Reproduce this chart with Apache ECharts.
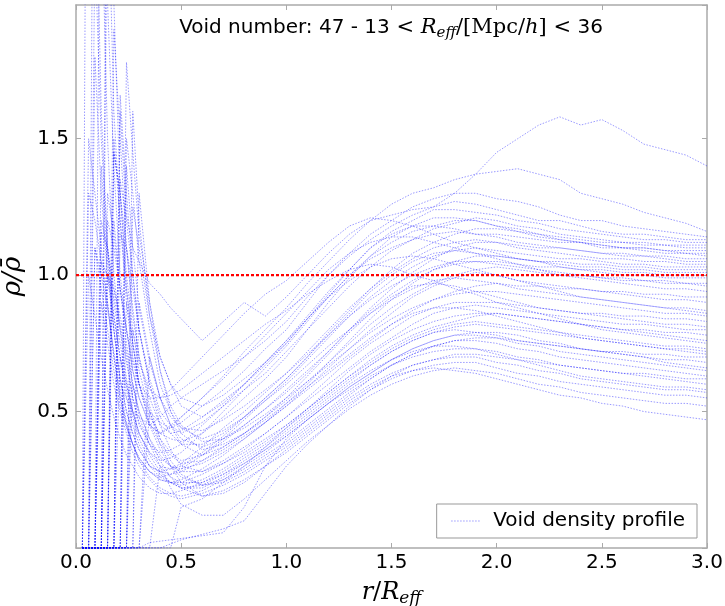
<!DOCTYPE html>
<html><head><meta charset="utf-8">
<script src="https://cdn.jsdelivr.net/npm/echarts@6/dist/echarts.min.js"></script>
<style>html,body{margin:0;padding:0;background:#fff}#c{width:725px;height:606px}</style>
</head><body><div id="c"></div>
<script>
// radius grid r/R_eff shared by all profiles
const rGrid = [0.03,0.06,0.09,0.12,0.15,0.18,0.21,0.24,0.27,0.30,0.35,0.40,0.45,0.50,0.60,0.70,0.80,0.90,1.00,1.10,1.20,1.30,1.40,1.50,1.60,1.70,1.80,1.90,2.00,2.10,2.20,2.30,2.40,2.50,2.60,2.70,2.80,2.90,3.00];

// density profiles rho/rho_bar (47 voids)
const p01 = [0,4.5,2.6,1.6,1.1,0.8,0.6,0.55,0.5,0.48,0.45,0.48,0.52,0.55,0.6,0.65,0.7,0.76,0.83,0.92,1.0,1.07,1.13,1.18,1.22,1.25,1.3,1.37,1.45,1.5,1.55,1.58,1.55,1.57,1.53,1.48,1.46,1.44,1.40];
const p02 = [0,0,0,3.2,2.0,1.4,1.0,0.8,0.65,0.55,0.45,0.42,0.45,0.48,0.55,0.63,0.72,0.8,0.88,0.97,1.05,1.13,1.2,1.26,1.3,1.32,1.35,1.37,1.38,1.39,1.37,1.35,1.3,1.28,1.26,1.23,1.21,1.19,1.16];
const p03 = [0,0,0,0,2.5,1.6,1.2,0.9,0.7,0.6,0.5,0.46,0.44,0.46,0.52,0.58,0.65,0.73,0.8,0.9,1.0,1.08,1.15,1.2,1.25,1.28,1.3,1.3,1.28,1.27,1.25,1.22,1.2,1.2,1.18,1.17,1.16,1.15,1.14];
const p04 = [0,0,0,0,0,0,1.6,1.22,1.1,1.05,0.97,0.93,0.88,0.84,0.76,0.83,0.9,0.85,0.92,1.0,1.08,1.15,1.2,1.22,1.24,1.25,1.27,1.26,1.24,1.22,1.2,1.2,1.18,1.16,1.15,1.15,1.14,1.13,1.13];
const p05 = [0,0,0,0,0,1.9,1.5,1.1,0.85,0.7,0.55,0.45,0.42,0.43,0.48,0.54,0.6,0.68,0.76,0.85,0.94,1.02,1.1,1.16,1.2,1.24,1.24,1.23,1.22,1.2,1.19,1.17,1.16,1.15,1.14,1.13,1.13,1.12,1.12];
const p06 = [0,0,3.8,2.4,1.5,1.0,0.8,0.62,0.5,0.42,0.35,0.32,0.33,0.35,0.42,0.5,0.58,0.66,0.74,0.83,0.92,1.0,1.07,1.12,1.16,1.18,1.2,1.2,1.18,1.17,1.15,1.14,1.13,1.12,1.12,1.11,1.11,1.11,1.11];
const p07 = [0,0,0,0,0,0,1.66,1.3,1.0,0.8,0.62,0.5,0.45,0.42,0.46,0.52,0.58,0.64,0.72,0.8,0.88,0.96,1.03,1.09,1.13,1.17,1.19,1.21,1.2,1.18,1.17,1.15,1.14,1.13,1.12,1.12,1.11,1.1,1.1];
const p08 = [0,0,0,0,0,0,0,1.78,1.45,1.15,0.9,0.7,0.6,0.55,0.52,0.56,0.62,0.68,0.75,0.84,0.92,1.0,1.06,1.1,1.13,1.15,1.16,1.15,1.15,1.14,1.13,1.12,1.12,1.11,1.1,1.1,1.09,1.09,1.09];
const p09 = [0,0,0,1.16,1.1,0.9,0.75,0.6,0.5,0.42,0.35,0.3,0.29,0.3,0.35,0.41,0.48,0.55,0.62,0.7,0.79,0.87,0.95,1.02,1.08,1.12,1.15,1.17,1.17,1.16,1.14,1.13,1.12,1.11,1.1,1.1,1.09,1.08,1.08];
const p10 = [0,0,0,0,3.0,2.0,1.3,0.95,0.75,0.6,0.48,0.42,0.4,0.39,0.42,0.48,0.55,0.62,0.7,0.8,0.9,0.99,1.07,1.14,1.18,1.21,1.21,1.2,1.18,1.16,1.15,1.13,1.12,1.1,1.1,1.09,1.08,1.08,1.07];
const p11 = [0,0,2.2,1.5,1.1,0.85,0.7,0.55,0.45,0.38,0.3,0.28,0.29,0.31,0.37,0.44,0.5,0.57,0.64,0.72,0.8,0.88,0.95,1.01,1.06,1.1,1.12,1.13,1.12,1.11,1.1,1.1,1.09,1.08,1.08,1.07,1.07,1.06,1.06];
const p12 = [0,0,0,0,0,0,0,0,1.25,1.1,0.85,0.7,0.6,0.52,0.48,0.53,0.6,0.67,0.75,0.84,0.93,1.02,1.1,1.15,1.18,1.18,1.17,1.15,1.14,1.12,1.11,1.1,1.09,1.08,1.07,1.07,1.06,1.05,1.05];
const p13 = [0,0,0,0,0,1.45,1.3,1.1,0.88,0.7,0.52,0.4,0.35,0.32,0.34,0.39,0.45,0.51,0.57,0.64,0.72,0.8,0.88,0.95,1.01,1.06,1.1,1.12,1.12,1.1,1.09,1.08,1.07,1.06,1.06,1.05,1.05,1.04,1.04];
const p14 = [0,1.5,1.3,1.1,0.9,0.7,0.55,0.45,0.38,0.32,0.28,0.26,0.27,0.29,0.34,0.4,0.47,0.54,0.61,0.69,0.77,0.85,0.92,0.98,1.03,1.07,1.09,1.1,1.09,1.08,1.07,1.06,1.06,1.05,1.04,1.04,1.03,1.03,1.03];
const p15 = [0,0,0,0,0,0,1.15,1.1,0.95,0.8,0.6,0.48,0.42,0.38,0.38,0.42,0.48,0.55,0.62,0.7,0.78,0.86,0.94,1.0,1.05,1.08,1.09,1.08,1.07,1.06,1.05,1.05,1.04,1.04,1.03,1.03,1.02,1.02,1.02];
const p16 = [0,0,0,1.05,1.0,0.92,0.8,0.68,0.55,0.46,0.38,0.33,0.3,0.29,0.31,0.35,0.4,0.46,0.53,0.6,0.68,0.76,0.84,0.91,0.97,1.02,1.05,1.07,1.07,1.06,1.05,1.04,1.03,1.03,1.02,1.02,1.01,1.01,1.01];
const p17 = [0,0,0,0,0,0,0,1.4,1.1,0.88,0.68,0.55,0.48,0.44,0.43,0.47,0.52,0.58,0.64,0.71,0.78,0.85,0.91,0.96,1.0,1.03,1.05,1.05,1.05,1.04,1.03,1.03,1.02,1.02,1.01,1.01,1.0,1.0,1.0];
const p18 = [0,0,0,0,1.3,1.15,0.95,0.8,0.68,0.6,0.55,0.55,0.58,0.62,0.7,0.78,0.86,0.93,0.98,1.05,1.12,1.18,1.21,1.2,1.18,1.15,1.12,1.1,1.08,1.06,1.05,1.03,1.02,1.01,1.0,1.0,0.99,0.99,0.99];
const p19 = [0,0,1.8,1.3,1.0,0.8,0.62,0.5,0.42,0.36,0.3,0.28,0.27,0.28,0.32,0.37,0.42,0.48,0.54,0.61,0.68,0.75,0.82,0.88,0.93,0.97,1.0,1.02,1.03,1.02,1.01,1.0,1.0,0.99,0.99,0.98,0.98,0.97,0.97];
const p20 = [0,0,0,0,0,0,0,0,0,0.9,0.7,0.55,0.45,0.4,0.37,0.4,0.45,0.51,0.58,0.65,0.72,0.8,0.87,0.93,0.98,1.02,1.04,1.05,1.04,1.03,1.02,1.01,1.0,0.99,0.98,0.98,0.97,0.97,0.96];
const p21 = [0,0,0,0,1.2,1.1,0.95,0.8,0.65,0.55,0.45,0.42,0.44,0.48,0.55,0.62,0.7,0.78,0.86,0.94,1.02,1.08,1.12,1.14,1.14,1.12,1.1,1.08,1.06,1.04,1.02,1.0,0.99,0.98,0.97,0.96,0.95,0.95,0.94];
const p22 = [0,0,0,0,0,1.5,1.2,0.95,0.75,0.6,0.46,0.38,0.34,0.31,0.32,0.36,0.41,0.46,0.52,0.58,0.64,0.7,0.76,0.82,0.87,0.91,0.94,0.96,0.97,0.96,0.96,0.95,0.95,0.94,0.94,0.93,0.93,0.92,0.92];
const p23 = [0,1.3,1.2,1.05,0.9,0.7,0.55,0.45,0.38,0.33,0.28,0.25,0.24,0.25,0.29,0.34,0.4,0.46,0.52,0.59,0.66,0.73,0.8,0.86,0.92,0.96,0.99,1.01,1.0,0.98,0.97,0.96,0.95,0.94,0.93,0.92,0.91,0.91,0.9];
const p24 = [0,0,0,0,0,0,0,1.5,1.3,1.05,0.8,0.6,0.5,0.44,0.4,0.43,0.48,0.54,0.6,0.67,0.74,0.8,0.86,0.91,0.95,0.98,0.99,0.98,0.97,0.95,0.94,0.93,0.92,0.91,0.9,0.89,0.88,0.88,0.87];
const p25 = [0,0,0,1.2,1.1,0.95,0.82,0.7,0.55,0.45,0.38,0.35,0.36,0.38,0.45,0.52,0.6,0.68,0.76,0.84,0.92,0.98,1.03,1.06,1.07,1.06,1.04,1.02,1.0,0.98,0.96,0.94,0.92,0.91,0.9,0.89,0.88,0.87,0.86];
const p26 = [0,0,0,0,0,0,0,0,1.6,1.2,0.85,0.65,0.52,0.45,0.39,0.4,0.44,0.49,0.55,0.61,0.67,0.73,0.79,0.84,0.88,0.91,0.93,0.94,0.94,0.93,0.92,0.91,0.9,0.89,0.88,0.87,0.86,0.86,0.85];
const p27 = [0,0,1.1,0.95,0.8,0.65,0.52,0.44,0.38,0.33,0.28,0.25,0.24,0.24,0.27,0.31,0.36,0.42,0.48,0.55,0.62,0.69,0.75,0.8,0.85,0.88,0.9,0.9,0.9,0.89,0.88,0.87,0.86,0.86,0.85,0.85,0.84,0.84,0.83];
const p28 = [0,0,0,0,0,0,0,0,0,0,0.7,0.55,0.45,0.38,0.34,0.37,0.42,0.48,0.55,0.63,0.71,0.79,0.86,0.92,0.96,0.97,0.96,0.94,0.92,0.9,0.88,0.87,0.86,0.85,0.84,0.83,0.82,0.82,0.81];
const p29 = [0,0,0,0,1.0,0.95,0.85,0.72,0.6,0.5,0.4,0.34,0.3,0.28,0.28,0.32,0.37,0.42,0.48,0.54,0.6,0.66,0.72,0.77,0.82,0.86,0.88,0.89,0.88,0.87,0.86,0.85,0.84,0.83,0.82,0.82,0.81,0.8,0.8];
const p30 = [0,0,0,0,0,0,1.35,1.2,1.0,0.8,0.6,0.45,0.36,0.3,0.28,0.31,0.35,0.4,0.45,0.51,0.57,0.63,0.69,0.74,0.78,0.81,0.83,0.85,0.86,0.85,0.84,0.83,0.82,0.81,0.8,0.8,0.79,0.79,0.78];
const p31 = [0,0,0,0,0,1.45,1.3,1.0,0.8,0.68,0.58,0.55,0.56,0.58,0.64,0.7,0.76,0.82,0.87,0.93,0.98,1.02,1.04,1.03,1.0,0.98,0.95,0.93,0.9,0.88,0.86,0.84,0.82,0.81,0.8,0.79,0.78,0.77,0.76];
const p32 = [0,0,0,0,0,0,0,0,0,0,0,0,0,0.15,0.18,0.24,0.3,0.37,0.44,0.51,0.58,0.65,0.71,0.76,0.8,0.83,0.85,0.86,0.86,0.85,0.84,0.83,0.82,0.8,0.79,0.78,0.77,0.76,0.75];
const p33 = [0,0,0,1.4,1.05,0.8,0.62,0.5,0.42,0.36,0.3,0.26,0.24,0.23,0.25,0.29,0.34,0.39,0.45,0.51,0.57,0.63,0.68,0.73,0.77,0.8,0.82,0.83,0.82,0.81,0.8,0.79,0.78,0.77,0.76,0.75,0.74,0.74,0.73];
const p34 = [0,1.0,0.85,0.7,0.58,0.48,0.4,0.34,0.3,0.26,0.22,0.2,0.2,0.21,0.24,0.28,0.33,0.38,0.44,0.5,0.56,0.62,0.67,0.72,0.76,0.79,0.81,0.82,0.81,0.8,0.79,0.78,0.77,0.76,0.75,0.74,0.73,0.73,0.72];
const p35 = [0,0,0,0,0,0,0,0,0,1.3,0.9,0.65,0.5,0.42,0.36,0.38,0.42,0.47,0.53,0.59,0.65,0.71,0.77,0.82,0.86,0.88,0.88,0.87,0.85,0.83,0.81,0.79,0.77,0.76,0.75,0.74,0.73,0.72,0.71];
const p36 = [0,0,0,0,0,0,0,0.9,0.75,0.6,0.45,0.36,0.3,0.26,0.23,0.25,0.29,0.34,0.39,0.45,0.51,0.57,0.62,0.67,0.71,0.74,0.76,0.77,0.77,0.76,0.75,0.74,0.73,0.72,0.72,0.71,0.71,0.7,0.7];
const p37 = [0,0,0,0,1.0,0.85,0.7,0.58,0.48,0.4,0.32,0.27,0.24,0.22,0.23,0.27,0.32,0.37,0.43,0.49,0.55,0.61,0.67,0.72,0.76,0.79,0.8,0.79,0.78,0.76,0.75,0.74,0.73,0.72,0.71,0.7,0.69,0.69,0.68];
const p38 = [0,0,0,0,0,0,0,0,0,0,0.02,0.025,0.03,0.035,0.045,0.056,0.15,0.3,0.4,0.47,0.53,0.59,0.64,0.69,0.73,0.76,0.78,0.79,0.79,0.78,0.76,0.75,0.73,0.72,0.71,0.7,0.68,0.67,0.66];
const p39 = [0,0,1.1,1.0,0.88,0.72,0.58,0.46,0.38,0.32,0.26,0.22,0.2,0.19,0.21,0.25,0.3,0.35,0.41,0.47,0.53,0.59,0.64,0.69,0.73,0.76,0.78,0.78,0.77,0.75,0.74,0.72,0.71,0.7,0.69,0.68,0.67,0.66,0.65];
const p40 = [0,0,0,0,0,0,0,0,0.8,0.65,0.5,0.4,0.32,0.27,0.23,0.24,0.28,0.33,0.38,0.44,0.5,0.56,0.62,0.67,0.71,0.74,0.76,0.76,0.75,0.73,0.72,0.7,0.69,0.68,0.67,0.66,0.65,0.64,0.63];
const p41 = [0,0,0,0,0,0,0,0,0,0,0,0,0.015,0.03,0.05,0.07,0.1,0.2,0.3,0.38,0.45,0.52,0.58,0.63,0.67,0.69,0.71,0.71,0.7,0.69,0.68,0.67,0.66,0.65,0.64,0.64,0.63,0.62,0.62];
const p42 = [0,0,0,0,0,1.2,0.95,0.75,0.6,0.48,0.38,0.3,0.26,0.24,0.24,0.27,0.31,0.36,0.41,0.47,0.53,0.58,0.63,0.67,0.7,0.72,0.73,0.73,0.72,0.7,0.69,0.67,0.66,0.65,0.64,0.63,0.62,0.61,0.6];
const p43 = [0,0,0,0,0,0,0.7,0.6,0.5,0.42,0.34,0.28,0.24,0.22,0.22,0.26,0.31,0.36,0.42,0.48,0.54,0.6,0.65,0.69,0.72,0.74,0.74,0.73,0.71,0.69,0.67,0.65,0.63,0.62,0.61,0.6,0.59,0.59,0.58];
const p44 = [0,0,0,0.9,0.75,0.6,0.5,0.42,0.35,0.3,0.25,0.21,0.19,0.18,0.2,0.23,0.27,0.32,0.37,0.43,0.49,0.55,0.6,0.64,0.67,0.69,0.7,0.7,0.68,0.67,0.65,0.64,0.62,0.61,0.6,0.59,0.58,0.58,0.57];
const p45 = [0,0,0,0,0,0,0,0,0.6,0.5,0.4,0.32,0.26,0.22,0.19,0.21,0.25,0.3,0.35,0.41,0.47,0.53,0.58,0.62,0.65,0.67,0.68,0.68,0.66,0.64,0.63,0.61,0.6,0.59,0.58,0.57,0.56,0.56,0.55];
const p46 = [0,0,0,0,0,0,0,0,0,0,0,0.3,0.22,0.16,0.12,0.12,0.18,0.25,0.32,0.39,0.45,0.51,0.56,0.6,0.63,0.65,0.66,0.65,0.64,0.62,0.6,0.59,0.57,0.56,0.55,0.54,0.53,0.53,0.52];
const p47 = [0,0,0,0,0,0,0,0,0,0,0.5,0.38,0.3,0.24,0.19,0.2,0.24,0.3,0.36,0.42,0.48,0.54,0.59,0.63,0.65,0.66,0.65,0.64,0.62,0.6,0.58,0.56,0.55,0.53,0.52,0.5,0.49,0.48,0.47];

const profiles = [p01,p02,p03,p04,p05,p06,p07,p08,p09,p10,p11,p12,p13,p14,p15,p16,p17,p18,p19,p20,
  p21,p22,p23,p24,p25,p26,p27,p28,p29,p30,p31,p32,p33,p34,p35,p36,p37,p38,p39,p40,p41,p42,p43,p44,p45,p46,p47];

const xTickValues = [0.0,0.5,1.0,1.5,2.0,2.5,3.0];
const yTickValues = [0.5,1.0,1.5];
const meanLevel = [1.0, 1.0];
const meanLevelX = [0.0, 3.0];
const legendLabel = 'Void density profile';

const chart = echarts.init(document.getElementById('c'), null, {renderer: 'canvas'});
const blue = 'rgba(0,0,255,0.4)';
const frame = '#aaaaaa';

const series = profiles.map(p => ({
  type: 'line', name: legendLabel,
  data: rGrid.map((r, i) => [r, p[i]]),
  symbol: 'none', showSymbol: false, silent: true, animation: false, clip: true,
  lineStyle: {color: blue, width: 1, type: [1.5, 1.5]},
  itemStyle: {color: blue}, z: 2
}));
series.push({
  type: 'line', name: 'mean', data: meanLevelX.map((x, i) => [x, meanLevel[i]]),
  symbol: 'none', silent: true, animation: false,
  lineStyle: {color: '#ff0000', width: 2.2, type: [3, 2]}, z: 3
});

const lbl = {fontSize: 20, color: '#000', fontFamily: 'DejaVu Sans'};
const fmt1 = v => v.toFixed(1);
const axLine = {show: true, onZero: false, lineStyle: {color: frame, width: 1.5}};
const axTick = {show: true, inside: true, length: 5, lineStyle: {color: frame}};

chart.setOption({
  animation: false,
  grid: {left: 76, right: 18, top: 5, bottom: 58, containLabel: false, outerBoundsMode: 'none'},
  legend: {
    data: [legendLabel], right: 28, bottom: 68,
    orient: 'horizontal', itemWidth: 30, itemHeight: 10,
    padding: [7, 12, 7, 14], borderColor: '#999', borderWidth: 1, backgroundColor: '#fff',
    itemStyle: {opacity: 0},
    lineStyle: {color: blue, width: 1, type: [1.5, 1.5]},
    textStyle: {fontSize: 20, color: '#000', fontFamily: 'DejaVu Sans', padding: [0, 0, 0, 7]},
    selectedMode: false
  },
  xAxis: [{
    type: 'value', min: 0, max: 3, interval: 0.5, position: 'bottom',
    axisLine: axLine, axisTick: axTick, splitLine: {show: false},
    axisLabel: Object.assign({margin: 5, formatter: v => xTickValues.includes(v) ? fmt1(v) : ''}, lbl),
    name: '{i|r}{m|/}{i|R}{s|eff}', nameLocation: 'middle', nameGap: 24,
    nameTextStyle: {verticalAlign: 'top', rich: {
      i: {fontFamily: 'DejaVu Serif', fontStyle: 'italic', fontSize: 24, color: '#000', lineHeight: 30},
      m: {fontFamily: 'DejaVu Serif', fontSize: 24, color: '#000', lineHeight: 30},
      s: {fontFamily: 'DejaVu Serif', fontStyle: 'italic', fontSize: 17, color: '#000', lineHeight: 30, padding: [12, 0, 0, 0]}
    }}
  }, {
    type: 'value', min: 0, max: 3, interval: 0.5, position: 'top',
    axisLine: axLine, axisTick: axTick,
    axisLabel: {show: false}, splitLine: {show: false}
  }],
  yAxis: [{
    type: 'value', min: 0, max: 1.99, interval: 0.5, position: 'left',
    axisLine: axLine, axisTick: axTick, splitLine: {show: false},
    axisLabel: Object.assign({margin: 7, showMaxLabel: false, formatter: v => yTickValues.includes(v) ? fmt1(v) : ''}, lbl),
    name: 'ρ/ρ̄', nameLocation: 'middle', nameGap: 44, nameRotate: 90,
    nameTextStyle: {fontFamily: 'DejaVu Serif', fontStyle: 'italic', fontSize: 26, color: '#000'}
  }, {
    type: 'value', min: 0, max: 1.99, interval: 0.5, position: 'right',
    axisLine: axLine, axisTick: axTick,
    axisLabel: {show: false}, splitLine: {show: false}
  }],
  graphic: [{
    type: 'text', x: 391, y: 28, z: 10,
    style: {
      text: '{a|Void number: 47 - 13}{m| <}{i| R}{s|eff}{m|/[Mpc/}{i|h}{m|] <}{a| 36}',
      align: 'center', verticalAlign: 'middle',
      rich: {
        a: {fontFamily: 'DejaVu Sans', fontSize: 20, fill: '#000', lineHeight: 28},
        m: {fontFamily: 'DejaVu Serif', fontSize: 21, fill: '#000', lineHeight: 28},
        i: {fontFamily: 'DejaVu Serif', fontStyle: 'italic', fontSize: 21, fill: '#000', lineHeight: 28},
        s: {fontFamily: 'DejaVu Serif', fontStyle: 'italic', fontSize: 15, fill: '#000', lineHeight: 28, padding: [10, 0, 0, 0]}
      }
    }
  }],
  series: series
});
</script></body></html>
